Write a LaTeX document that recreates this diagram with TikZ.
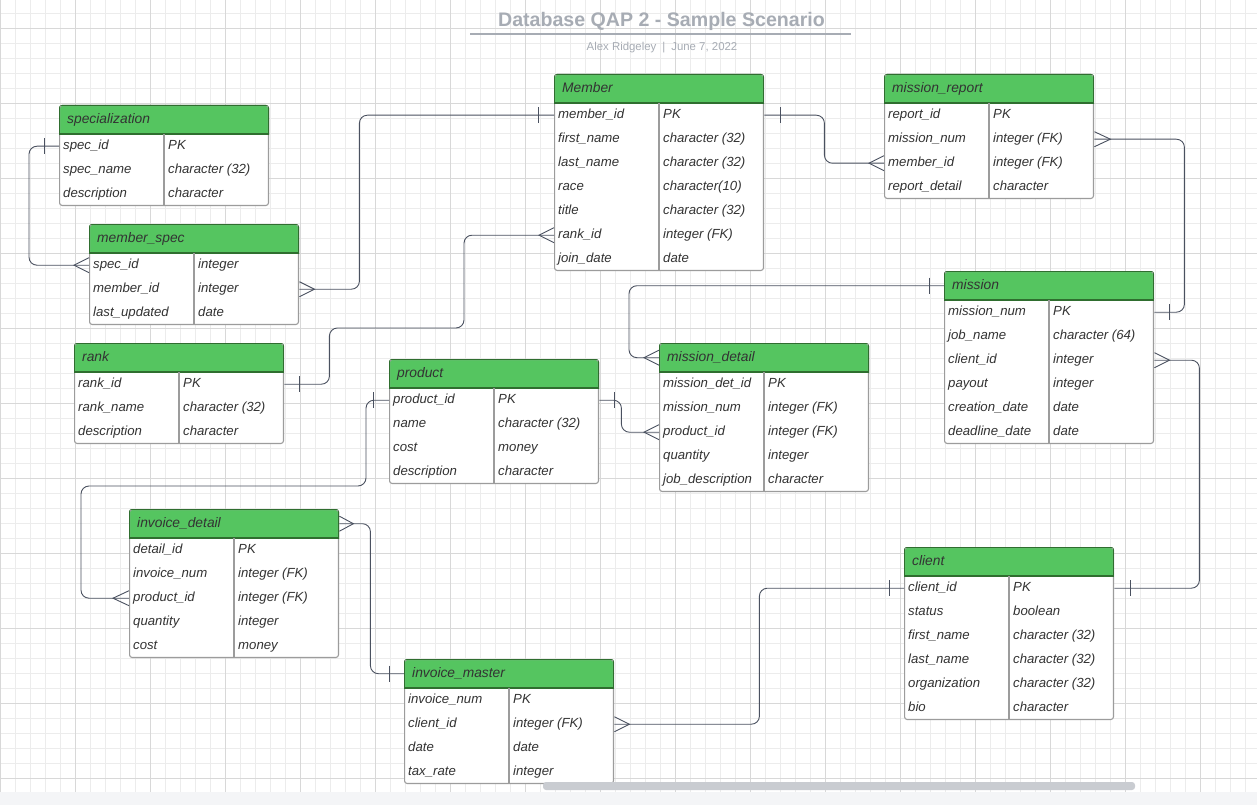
\documentclass[tikz,border=0pt]{standalone}
\usepackage{fontspec}
\setmainfont{Liberation Sans}
\usepackage{tikz}

\definecolor{hdgreen}{HTML}{55C560}
\definecolor{hdedge}{HTML}{2F6E2F}
\definecolor{boxedge}{HTML}{9C9C9C}
\definecolor{linkcol}{HTML}{4A5160}
\definecolor{titlegray}{HTML}{A7ACB4}
\definecolor{gridlight}{HTML}{ECECEC}
\definecolor{griddark}{HTML}{D8D8D8}
\definecolor{txt}{HTML}{333333}
\definecolor{stripgray}{HTML}{F4F5F7}
\definecolor{scrollgray}{HTML}{C9CCD1}

% table: name, left, top, rows, title, field/type list
\newcommand{\ertable}[6]{%
  \begin{scope}
    \clip[rounded corners=3] (#2,#3) rectangle (#2+210,#3+29+24*#4);
    \fill[white] (#2,#3) rectangle (#2+210,#3+29+24*#4);
    \fill[hdgreen] (#2,#3) rectangle (#2+210,#3+29);
    \draw[boxedge, line width=2.2pt, rounded corners=3] (#2,#3) rectangle (#2+210,#3+29+24*#4);
    \draw[hdedge, line width=2pt] (#2,#3) rectangle (#2+210,#3+29);
  \end{scope}
  \draw[boxedge, line width=1.1pt] (#2+105,#3+29) -- (#2+105,#3+29+24*#4);
  \node[erhead] (#1) at (#2,#3) {#5};
  \foreach \f/\t [count=\i] in {#6} {
    \node[errow] (#1-\i) at (#2,{#3+29+24*(\i-1)}) {\f};
    \node[ertype] at ([xshift=105pt]#1-\i.west) {\t};
  }
}
\newcommand{\onemark}[2]{\draw[ermark] ([xshift=#2]#1) ++(0,-8) -- ++(0,16);}
\newcommand{\manymark}[2]{\draw[ermark] ([yshift=7.5pt]#1) -- ([xshift=#2]#1) -- ([yshift=-7.5pt]#1);}

\begin{document}
\begin{tikzpicture}[x=1pt, y=-1pt,
  erhead/.style={anchor=north west, text width=194pt, inner xsep=8pt, inner ysep=0pt,
    minimum height=29pt, text height=10pt, text depth=3pt, align=left,
    font=\fontsize{13.8}{16}\selectfont\itshape, text=txt},
  errow/.style={anchor=north west, text width=202pt, inner xsep=4pt, inner ysep=0pt,
    minimum height=24pt, text height=9.5pt, text depth=3pt, align=left,
    font=\fontsize{13.2}{15}\selectfont\itshape, text=txt},
  ertype/.style={anchor=west, inner xsep=4pt, inner ysep=0pt, text height=9.5pt,
    text depth=3pt, font=\fontsize{13.2}{15}\selectfont\itshape, text=txt},
  link/.style={draw=linkcol, line width=0.9pt, rounded corners=8},
  ermark/.style={draw=linkcol, line width=0.9pt}]
\useasboundingbox (0,0) rectangle (1257,805);
\fill[white] (0,0) rectangle (1257,805);

% grid
\foreach \gx in {0,15,...,1255} \draw[gridlight, line width=0.8pt] (\gx,0) -- (\gx,792);
\foreach \gy in {13,28,...,790} \draw[gridlight, line width=0.8pt] (0,\gy) -- (1257,\gy);
\foreach \gx in {0,75,...,1255} \draw[griddark, line width=0.8pt] (\gx,0) -- (\gx,792);
\foreach \gy in {28,103,...,790} \draw[griddark, line width=0.8pt] (0,\gy) -- (1257,\gy);

\node[font=\fontsize{19.6}{22}\selectfont\bfseries, text=titlegray] (title) at (661.5,21.5)
  {Database QAP 2 - Sample Scenario};
\draw[titlegray, line width=1.5pt] (470,34) -- (851,34);
\node[font=\fontsize{11.4}{13}\selectfont, text=titlegray] (author) at (662,47.5)
  {Alex Ridgeley\hspace{6pt}|\hspace{6pt}June 7, 2022};

\ertable{spec}{59}{105}{3}{specialization}{spec\_id/PK, spec\_name/character (32), description/character}
\ertable{member}{554}{74}{7}{Member}{member\_id/PK, first\_name/character (32), last\_name/character (32), race/character(10), title/character (32), rank\_id/integer (FK), join\_date/date}
\ertable{mreport}{884}{74}{4}{mission\_report}{report\_id/PK, mission\_num/integer (FK), member\_id/integer (FK), report\_detail/character}
\ertable{mspec}{89}{224}{3}{member\_spec}{spec\_id/integer, member\_id/integer, last\_updated/date}
\ertable{mission}{944}{271}{6}{mission}{mission\_num/PK, job\_name/character (64), client\_id/integer, payout/integer, creation\_date/date, deadline\_date/date}
\ertable{rank}{74}{343}{3}{rank}{rank\_id/PK, rank\_name/character (32), description/character}
\ertable{mdetail}{659}{343}{5}{mission\_detail}{mission\_det\_id/PK, mission\_num/integer (FK), product\_id/integer (FK), quantity/integer, job\_description/character}
\ertable{product}{389}{359}{4}{product}{product\_id/PK, name/character (32), cost/money, description/character}
\ertable{idetail}{129}{509}{5}{invoice\_detail}{detail\_id/PK, invoice\_num/integer (FK), product\_id/integer (FK), quantity/integer, cost/money}
\ertable{client}{904}{547}{6}{client}{client\_id/PK, status/boolean, first\_name/character (32), last\_name/character (32), organization/character (32), bio/character}
\ertable{imaster}{404}{659}{4}{invoice\_master}{invoice\_num/PK, client\_id/integer (FK), date/date, tax\_rate/integer}

% relations
\draw[link] (spec-1.west) -- ++(-30,0) |- (mspec-1.west);
\onemark{spec-1.west}{-15pt}
\manymark{mspec-1.west}{-15pt}

\draw[link] (mspec-2.east) -- ++(60,0) |- (member-1.west);
\manymark{mspec-2.east}{15pt}
\onemark{member-1.west}{-16pt}

\draw[link] (rank-1.east) -- ++(45,0) |- (464,328) |- (member-6.west);
\onemark{rank-1.east}{15pt}
\manymark{member-6.west}{-15pt}

\draw[link] (member-1.east) -- ++(60,0) |- (mreport-3.west);
\onemark{member-1.east}{16pt}
\manymark{mreport-3.west}{-15pt}

\draw[link] (mreport-2.east) -- ++(90,0) |- (mission-1.east);
\manymark{mreport-2.east}{16pt}
\onemark{mission-1.east}{15pt}

\draw[link] (mission.west) -- ++(-315,0) |- (mdetail.west);
\onemark{mission.west}{-15pt}
\manymark{mdetail.west}{-15pt}

\draw[link] (product-1.east) -- ++(22,0) |- (mdetail-3.west);
\onemark{product-1.east}{15pt}
\manymark{mdetail-3.west}{-15pt}

\draw[link] (product-1.west) -- ++(-23,0) |- (81,486) |- (idetail-3.west);
\onemark{product-1.west}{-16pt}
\manymark{idetail-3.west}{-16pt}

\draw[link] (idetail.east) -- ++(31,0) |- (imaster.west);
\manymark{idetail.east}{14pt}
\onemark{imaster.west}{-15pt}

\draw[link] (imaster-2.east) -- ++(145,0) |- (client-1.west);
\manymark{imaster-2.east}{15pt}
\onemark{client-1.west}{-15pt}

\draw[link] (mission-3.east) -- ++(45,0) |- (client-1.east);
\manymark{mission-3.east}{15pt}
\onemark{client-1.east}{16pt}

% window strip
\fill[stripgray] (0,792) rectangle (1257,805);
\fill[scrollgray, rounded corners=3] (543,782) rectangle (1135,790);
\end{tikzpicture}
\end{document}
